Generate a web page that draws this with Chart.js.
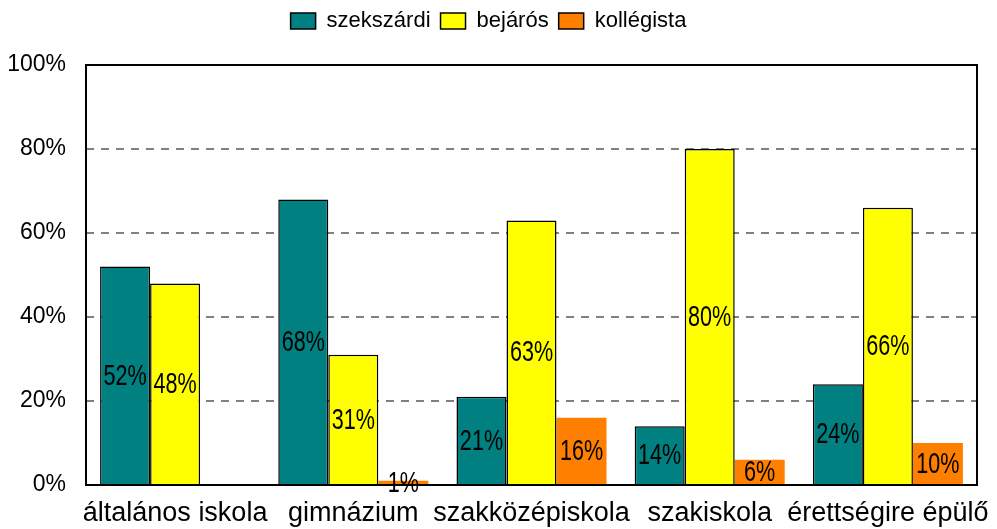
<!DOCTYPE html>
<html lang="hu">
<head>
    <meta charset="UTF-8">
    <title>Tanulók megoszlása</title>
    <script src="https://cdn.jsdelivr.net/npm/chart.js"></script>
    <style>
        body {
            margin: 0;
            background: #fff;
        }
        canvas {
            display: block;
        }
    </style>
</head>
<body>
    <canvas id="chart" width="997" height="529"></canvas>

    <script>
        // adatok
        const categories = ['általános iskola', 'gimnázium', 'szakközépiskola', 'szakiskola', 'érettségire épülő'];
        const szekszardi = [52, 68, 21, 14, 24];
        const bejaros = [48, 31, 63, 80, 66];
        const kollegista = [0, 1, 16, 6, 10];
        const yMax = 100;
        const yStep = 20;

        const FONT = '"Liberation Sans", Arial, sans-serif';
        Chart.defaults.color = '#000';
        Chart.defaults.font.family = FONT;

        // legenda magassága fix
        const legendHeight = {
            id: 'legendHeight',
            beforeInit(chart) {
                const fit = chart.legend.fit;
                chart.legend.fit = function () {
                    fit.bind(chart.legend)();
                    this.height = 65;
                };
            }
        };

        // keret + értékek az oszlopok közepén
        const frameAndLabels = {
            id: 'frameAndLabels',
            afterDatasetsDraw(chart) {
                const ctx = chart.ctx;
                const a = chart.chartArea;
                ctx.save();
                ctx.strokeStyle = '#000';
                ctx.lineWidth = 2;
                ctx.strokeRect(a.left, a.top, a.right - a.left, a.bottom - a.top);
                ctx.restore();

                chart.data.datasets.forEach((ds, i) => {
                    const meta = chart.getDatasetMeta(i);
                    meta.data.forEach((bar, j) => {
                        const v = ds.data[j];
                        if (!v) return;
                        ctx.save();
                        ctx.translate(bar.x, (bar.y + bar.base) / 2);
                        ctx.scale(0.72, 1);
                        ctx.font = '30px ' + FONT;
                        ctx.fillStyle = '#000';
                        ctx.textAlign = 'center';
                        ctx.textBaseline = 'middle';
                        ctx.fillText(v + '%', 0, 1);
                        ctx.restore();
                    });
                });
            }
        };

        const defaultLabels = Chart.defaults.plugins.legend.labels.generateLabels;

        new Chart(document.getElementById('chart'), {
            type: 'bar',
            data: {
                labels: categories,
                datasets: [{
                    label: 'szekszárdi',
                    data: szekszardi,
                    backgroundColor: '#008080',
                    borderColor: '#000',
                    borderWidth: 1.5
                }, {
                    label: 'bejárós',
                    data: bejaros,
                    backgroundColor: '#ffff00',
                    borderColor: '#000',
                    borderWidth: 1.5
                }, {
                    label: 'kollégista',
                    data: kollegista,
                    backgroundColor: '#ff8000',
                    borderWidth: 0
                }]
            },
            options: {
                responsive: false,
                animation: false,
                layout: { padding: { right: 20 } },
                datasets: {
                    bar: { categoryPercentage: 0.842, barPercentage: 1.0 }
                },
                plugins: {
                    tooltip: { enabled: false },
                    legend: {
                        labels: {
                            boxWidth: 25,
                            boxHeight: 16,
                            padding: 10,
                            font: { size: 22 },
                            generateLabels(chart) {
                                return defaultLabels(chart).map(l => {
                                    l.strokeStyle = '#000';
                                    l.lineWidth = 1.5;
                                    return l;
                                });
                            }
                        }
                    }
                },
                scales: {
                    x: {
                        grid: { display: false },
                        border: { display: false },
                        ticks: {
                            font: { size: 27 },
                            padding: 4,
                            maxRotation: 0,
                            autoSkip: false
                        },
                        afterFit(scale) { scale.height = 44; }
                    },
                    y: {
                        min: 0,
                        max: yMax,
                        border: { display: false, dash: [8, 7] },
                        grid: {
                            drawTicks: false,
                            lineWidth: 2,
                            color: c => (c.tick && c.tick.value > 0 && c.tick.value < yMax) ? '#808080' : 'rgba(0,0,0,0)'
                        },
                        ticks: {
                            stepSize: yStep,
                            padding: 20,
                            font: { size: 23 },
                            callback: v => v + '%'
                        },
                        afterFit(scale) { scale.width = 86; }
                    }
                }
            },
            plugins: [legendHeight, frameAndLabels]
        });
    </script>
</body>
</html>
